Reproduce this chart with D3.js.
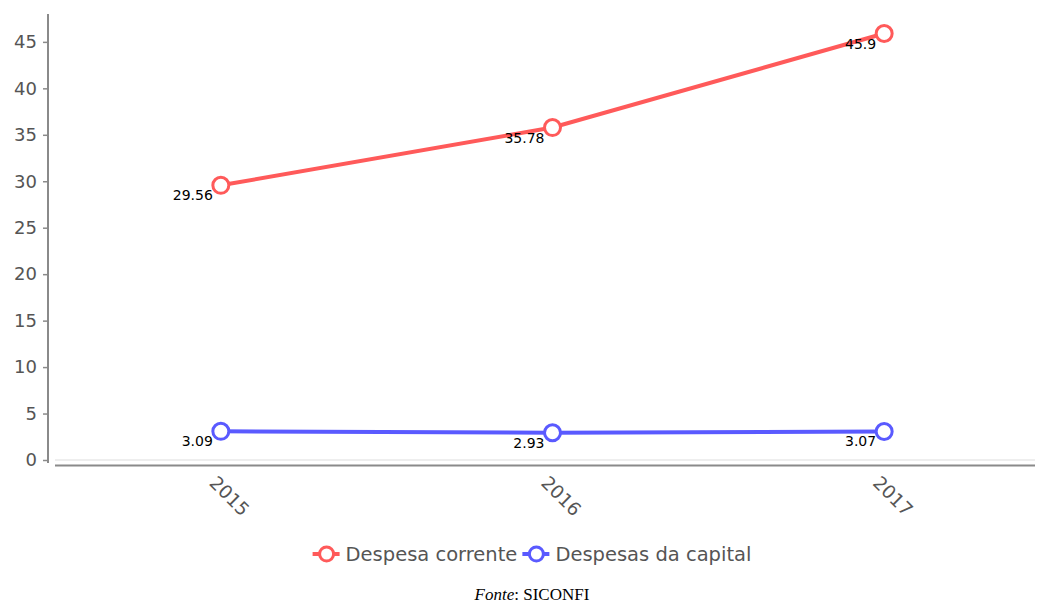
<!DOCTYPE html>
<html>
<head>
<meta charset="utf-8">
<script src="https://cdnjs.cloudflare.com/ajax/libs/d3/7.8.5/d3.min.js"></script>
<style>
  html, body { margin: 0; padding: 0; background: #fff; }
  svg { display: block; }
</style>
</head>
<body>
<svg id="chart" width="1038" height="605"></svg>
<script>
// Anos e valores das despesas (R$ milhões)
const years = ["2015", "2016", "2017"];
const despesaCorrente = [29.56, 35.78, 45.9];
const despesasCapital = [3.09, 2.93, 3.07];
const yTicks = [0, 5, 10, 15, 20, 25, 30, 35, 40, 45];
const seriesNames = ["Despesa corrente", "Despesas da capital"];
const seriesColors = ["#ff5a5a", "#5a5aff"];

const svg = d3.select("#chart");

const y = d3.scaleLinear().domain([0, 48]).range([460, 14]);
const x = d3.scalePoint().domain(years).range([55, 1050]).padding(0.5);

// Linha de base (zero) e eixo horizontal
svg.append("line")
  .attr("x1", 55).attr("x2", 1035)
  .attr("y1", y(0)).attr("y2", y(0))
  .attr("stroke", "#eeeeee").attr("stroke-width", 2);
svg.append("line")
  .attr("x1", 55).attr("x2", 1035)
  .attr("y1", 465.5).attr("y2", 465.5)
  .attr("stroke", "#8a8a8a").attr("stroke-width", 2);

// Eixo vertical
const yAxis = d3.axisLeft(y).tickValues(yTicks).tickSize(5).tickPadding(6).tickSizeOuter(0);
const gy = svg.append("g").attr("transform", "translate(48,0)").call(yAxis);
gy.select(".domain").attr("stroke", "#8a8a8a").attr("stroke-width", 2)
  .attr("d", `M0,${14}V${463}`);
gy.selectAll(".tick line").attr("stroke", "#8a8a8a").attr("stroke-width", 1.5);
gy.selectAll(".tick text")
  .attr("fill", "#555").attr("font-family", "DejaVu Sans, sans-serif").attr("font-size", 18);

// Rótulos dos anos, girados
const xAxis = d3.axisBottom(x).tickSize(0);
const gx = svg.append("g").attr("transform", "translate(0,466)").call(xAxis);
gx.select(".domain").remove();
gx.selectAll(".tick text")
  .attr("fill", "#555").attr("font-family", "DejaVu Sans, sans-serif").attr("font-size", 18.5)
  .attr("text-anchor", "start")
  .attr("dy", 0).attr("y", 0)
  .attr("transform", "translate(-13,18) rotate(45)");

// Séries
const series = [despesaCorrente, despesasCapital];
const line = d3.line().x((d, i) => x(years[i])).y(d => y(d));

series.forEach((vals, s) => {
  const g = svg.append("g");
  g.append("path").datum(vals)
    .attr("d", line).attr("fill", "none")
    .attr("stroke", seriesColors[s]).attr("stroke-width", 4);
  g.selectAll("circle").data(vals).join("circle")
    .attr("cx", (d, i) => x(years[i])).attr("cy", d => y(d))
    .attr("r", 8).attr("fill", "#fff")
    .attr("stroke", seriesColors[s]).attr("stroke-width", 3);
  g.selectAll("text").data(vals).join("text")
    .attr("x", (d, i) => x(years[i]) - 8).attr("y", d => y(d) + 15)
    .attr("text-anchor", "end")
    .attr("font-family", "DejaVu Sans, sans-serif").attr("font-size", 14)
    .attr("fill", "#000")
    .text(d => d);
});

// Legenda
const legend = svg.append("g").attr("font-family", "DejaVu Sans, sans-serif").attr("font-size", 19.5);
const items = legend.selectAll("g").data(seriesNames).join("g");
items.append("line").attr("x1", 0).attr("x2", 27).attr("y1", 0).attr("y2", 0)
  .attr("stroke", (d, i) => seriesColors[i]).attr("stroke-width", 4);
items.append("circle").attr("cx", 14).attr("cy", 0).attr("r", 7)
  .attr("fill", "#fff").attr("stroke", (d, i) => seriesColors[i]).attr("stroke-width", 3);
items.append("text").attr("x", 33).attr("y", 7).attr("fill", "#555").text(d => d);
let off = 0;
const widths = [];
items.each(function () {
  widths.push(33 + this.querySelector("text").getComputedTextLength());
});
const total = widths.reduce((a, b) => a + b, 0) + 5 * (widths.length - 1);
const start = 532 - total / 2;
items.attr("transform", (d, i) => {
  const t = `translate(${start + off},554)`;
  off += widths[i] + 5;
  return t;
});

// Fonte
const fonte = svg.append("text").attr("x", 532).attr("y", 600)
  .attr("text-anchor", "middle")
  .attr("font-family", "Liberation Serif, Times New Roman, serif").attr("font-size", 17)
  .attr("fill", "#000");
fonte.append("tspan").attr("font-style", "italic").text("Fonte");
fonte.append("tspan").text(": SICONFI");
</script>
</body>
</html>
